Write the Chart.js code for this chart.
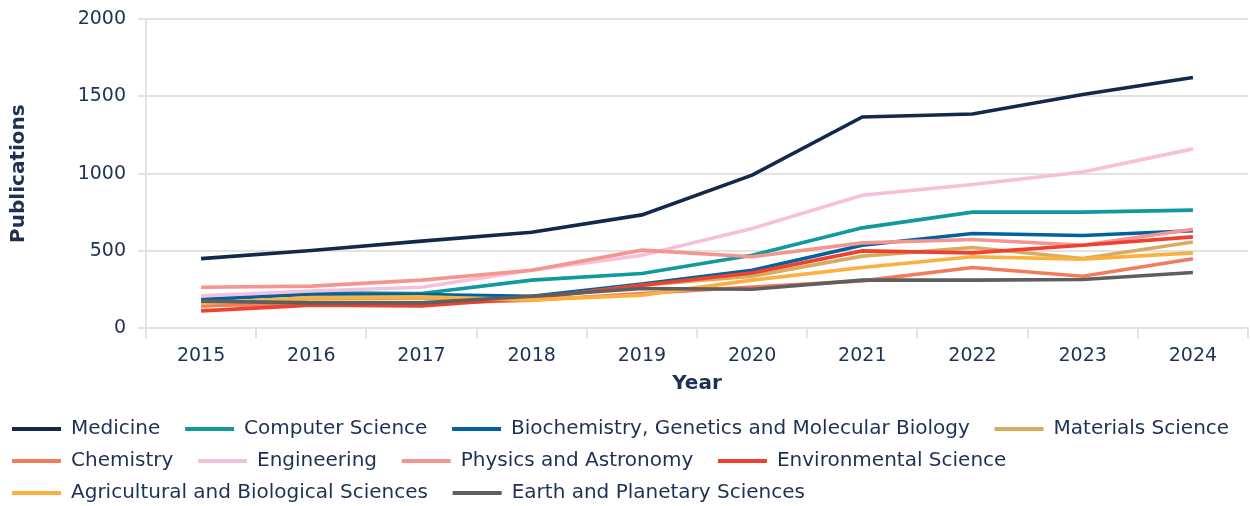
<!DOCTYPE html>
<html>
<head>
<meta charset="utf-8">
<script src="https://cdn.jsdelivr.net/npm/chart.js@4.4.1/dist/chart.umd.min.js"></script>
<style>
  html, body { margin: 0; padding: 0; background: #fff; }
  #wrap { width: 1250px; height: 506px; }
</style>
</head>
<body>
<div id="wrap"><canvas id="chart" width="1250" height="506"></canvas></div>
<script>
// values
const years = ["2015", "2016", "2017", "2018", "2019", "2020", "2021", "2022", "2023", "2024"];

const medicine      = [450, 503, 563, 621, 733, 990, 1366, 1385, 1512, 1622];
const computerSci   = [186, 229, 224, 311, 354, 472, 649, 751, 751, 764];
const biochemistry  = [186, 220, 218, 207, 285, 375, 537, 613, 600, 630];
const materialsSci  = [140, 190, 192, 190, 278, 337, 466, 522, 451, 558];
const chemistry     = [149, 152, 160, 181, 224, 267, 306, 393, 336, 449];
const engineering   = [209, 241, 265, 375, 472, 645, 860, 930, 1010, 1160];
const physics       = [265, 272, 311, 375, 505, 462, 552, 574, 537, 640];
const environmental = [112, 149, 144, 195, 278, 358, 500, 487, 537, 591];
const agricultural  = [160, 199, 203, 183, 214, 311, 393, 462, 447, 487];
const earth         = [175, 164, 164, 207, 257, 252, 311, 311, 315, 360];

const yTicks = [0, 500, 1000, 1500, 2000];

const textColor = "#1d3154";
const gridColor = "#e3e3e3";
const fontFamily = "'DejaVu Sans', 'Noto Sans', sans-serif";

const series = [
  { label: "Medicine", data: medicine, color: "#14284b" },
  { label: "Computer Science", data: computerSci, color: "#10999e" },
  { label: "Biochemistry, Genetics and Molecular Biology", data: biochemistry, color: "#0062a0" },
  { label: "Materials Science", data: materialsSci, color: "#d8ac60" },
  { label: "Chemistry", data: chemistry, color: "#f27c5c" },
  { label: "Engineering", data: engineering, color: "#f7c0da" },
  { label: "Physics and Astronomy", data: physics, color: "#f4968f" },
  { label: "Environmental Science", data: environmental, color: "#ee4130" },
  { label: "Agricultural and Biological Sciences", data: agricultural, color: "#fbb040" },
  { label: "Earth and Planetary Sciences", data: earth, color: "#5f5f5f" },
];

// legend items that end a row get no extra trailing gap
const rowEnds = [3, 7, 9];

const datasets = series.map((s, i) => ({
  label: s.label,
  data: s.data,
  borderColor: s.color,
  backgroundColor: s.color,
  borderWidth: 3.6,
  pointRadius: 0,
  tension: 0,
  fill: false,
  order: series.length - i, // later series drawn on top
}));

new Chart(document.getElementById("chart"), {
  type: "line",
  data: { labels: years, datasets },
  options: {
    responsive: false,
    animation: false,
    layout: { padding: { top: 0, right: 2, left: 0, bottom: -7 } },
    scales: {
      x: {
        offset: true,
        grid: {
          offset: true,
          drawOnChartArea: false,
          color: gridColor,
          lineWidth: 2,
          tickLength: 10,
        },
        border: { color: gridColor, width: 2 },
        ticks: { color: textColor, font: { family: fontFamily, size: 19 }, padding: 6 },
        title: {
          display: true,
          text: "Year",
          color: textColor,
          font: { family: fontFamily, size: 20, weight: "bold" },
          padding: { top: -1, bottom: 11 },
        },
      },
      y: {
        min: 0,
        max: 2000,
        afterBuildTicks: (axis) => { axis.ticks = yTicks.map(v => ({ value: v })); },
        afterFit: (axis) => { axis.width = 146; axis.paddingTop = 19; },
        grid: { color: gridColor, lineWidth: 2, tickLength: 8 },
        border: { color: gridColor, width: 2 },
        ticks: {
          color: textColor,
          font: { family: fontFamily, size: 19 },
          padding: 12,
          callback: (v) => String(v),
        },
        title: {
          display: true,
          text: "Publications",
          color: textColor,
          font: { family: fontFamily, size: 20, weight: "bold" },
          padding: { top: 7, bottom: 4 },
        },
      },
    },
    plugins: {
      tooltip: { enabled: false },
      legend: {
        position: "bottom",
        align: "start",
        labels: {
          color: textColor,
          font: { family: fontFamily, size: 20 },
          boxWidth: 49,
          boxHeight: 4,
          padding: 12,
          generateLabels: (chart) => chart.data.datasets.map((ds, i) => ({
            text: ds.label + (rowEnds.includes(i) ? "" : "  "),
            fillStyle: ds.borderColor,
            strokeStyle: ds.borderColor,
            lineWidth: 0,
            fontColor: textColor,
            datasetIndex: i,
            hidden: false,
          })),
        },
      },
    },
  },
});
</script>
</body>
</html>
